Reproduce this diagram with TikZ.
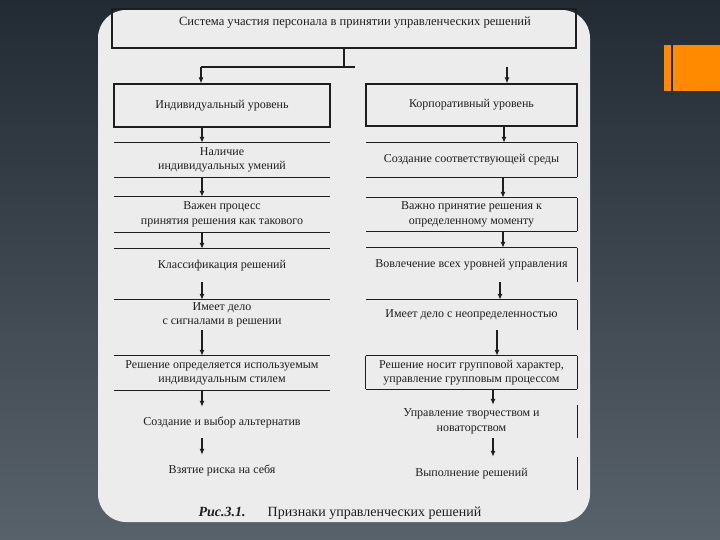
\documentclass[tikz,border=0pt]{standalone}
\usepackage{fontspec}
\setmainfont{Liberation Serif}
\usetikzlibrary{arrows.meta}
\definecolor{slidebg}{HTML}{222A33}
\definecolor{slidelow}{HTML}{58626A}
\definecolor{card}{HTML}{ECECEC}
\definecolor{accent}{HTML}{FF8A00}
\definecolor{ink}{HTML}{1E1E1E}

\begin{document}
\begin{tikzpicture}[x=1pt,y=-1pt,
  every node/.style={font=\fontsize{12}{14.5}\selectfont, text=ink, align=center, inner sep=0pt},
  arr/.style={-{Latex[length=6pt,width=5pt]}, line width=1.6pt, draw=ink},
  rule/.style={line width=1.1pt, draw=ink}]
\useasboundingbox (0,0) rectangle (720,540);
\shade[top color=slidebg, middle color=slidebg, bottom color=slidelow] (0,0) rectangle (720,540);
\fill[card, rounded corners=28pt] (98,10) rectangle (590,522);
\fill[accent] (664,45) rectangle (720,91);
\fill[slidebg] (671,45) rectangle (673,91);

\node[draw=ink, line width=2pt, minimum width=464pt, minimum height=39pt] (head) at (344,28.5) {};
\node[font=\fontsize{12.6}{15}\selectfont] (title) at (355,23) {Система участия персонала в принятии управленческих решений};

\node[rule, minimum width=216pt, minimum height=43pt] (L1) at (222,105.5) {Индивидуальный уровень};
\node[rule, minimum width=211pt, minimum height=42pt] (R1) at (471.5,105) {Корпоративный уровень};

\foreach \n/\y/\h/\t in {
  L2/160/34/{Наличие\\индивидуальных умений},
  L3/214.5/35/{Важен процесс\\принятия решения как такового},
  L4/265.5/33/{Классификация решений},
  L5/315/30/{Имеет дело\\с сигналами в решении},
  L6/373/34/{Решение определяется используемым\\индивидуальным стилем},
  L7/422.5/31/{Создание и выбор альтернатив},
  L8/470/30/{Взятие риска на себя}}
  \node[minimum width=216pt, minimum height=\h pt] (\n) at (222,\y) {\t};

\foreach \n/\y/\h/\t in {
  R2/160/34/{Создание соответствующей среды},
  R3/214.5/33/{Важно принятие решения к\\определенному моменту},
  R4/265/34/{Вовлечение всех уровней управления},
  R5/315/30/{Имеет дело с неопределенностью},
  R6/372.5/33/{Решение носит групповой характер,\\управление групповым процессом},
  R7/421.5/33/{Управление творчеством и\\новаторством},
  R8/473.5/33/{Выполнение решений}}
  \node[minimum width=211pt, minimum height=\h pt] (\n) at (471.5,\y) {\t};

\foreach \n in {L2,L3,L4,L5,L6,R2,R3,R4,R5,R6}
  \draw[rule] (\n.north west) -- (\n.north east);
\foreach \n in {L2,L3,L6,R2,R3,R6}
  \draw[rule] (\n.south west) -- (\n.south east);
\foreach \n in {R2,R3,R4,R5,R6,R7,R8}
  \draw[rule] (\n.north east) -- (\n.south east);
\draw[rule] (R6.north west) -- (R6.south west);

\draw[rule] (head.south) -- ++(0,18) coordinate (fork);
\draw[rule] (fork -| 201,0) -- (fork -| 355,0);
\draw[arr] (fork -| 201,0) -- (L1.north -| 201,0);
\draw[arr] (fork -| 507,0) -- (R1.north -| 507,0);

\foreach \a/\b in {L1/L2,L2/L3,L3/L4,L4/L5,L5/L6,L6/L7,L7/L8}
  \draw[arr] (\a.south -| 202,0) -- (\b.north -| 202,0);
\foreach \a/\b/\x in {R1/R2/504,R2/R3/503,R3/R4/503,R4/R5/500,R5/R6/497,R6/R7/493,R7/R8/493}
  \draw[arr] (\a.south -| \x,0) -- (\b.north -| \x,0);

\node (cap) at (340,513) {\fontsize{14}{16}\selectfont{\bfseries\itshape Рис.3.1.}\hspace{22pt}Признаки управленческих решений};
\end{tikzpicture}
\end{document}
